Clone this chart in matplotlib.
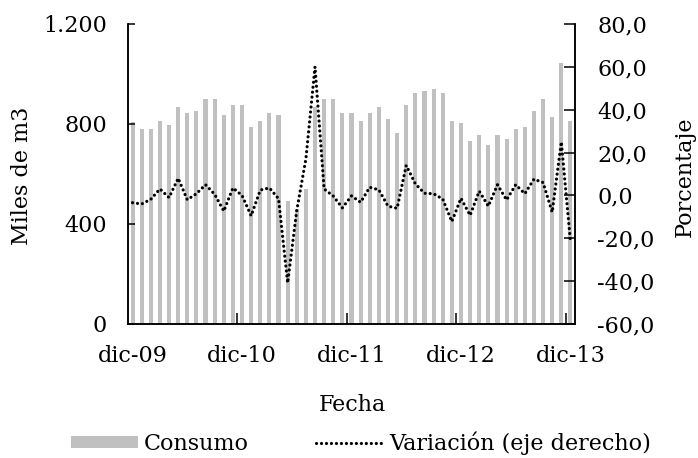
import numpy as np
import matplotlib
matplotlib.use("Agg")
import matplotlib.pyplot as plt
from matplotlib.ticker import FuncFormatter, FixedLocator

# datos mensuales dic-09 .. dic-13 (49 meses)
consumo = [809, 779, 779, 811, 795, 867, 843, 851, 899, 899, 835, 875,
           875, 787, 811, 843, 835, 493, 462, 541, 869, 899, 899, 845,
           845, 812, 845, 867, 819, 763, 875, 923, 931, 939, 923, 811,
           803, 731, 755, 715, 755, 739, 779, 787, 851, 899, 827, 1043,
           811]
variacion = [-3.4, -4.0, -1.8, 3.0, -1.0, 8.0, -2.0, 0.8, 5.0, 0.5, -7.3, 3.5,
             0.0, -9.5, 2.5, 3.5, -1.5, -40.8, -7.0, 17.0, 60.0, 3.0, -0.3, -5.8,
             -0.2, -3.2, 3.8, 2.6, -5.0, -6.0, 14.0, 5.4, 1.0, 0.8, -1.7, -12.2,
             -1.3, -9.3, 2.0, -5.0, 5.0, -2.1, 5.0, 0.8, 7.6, 6.0, -7.8, 25.0,
             -21.5]
etiquetas = ['dic-09', 'dic-10', 'dic-11', 'dic-12', 'dic-13']

plt.rcParams['font.family'] = 'DejaVu Serif'
plt.rcParams['font.size'] = 16

fig = plt.figure(figsize=(6.98, 4.58), dpi=100)
ax = fig.add_axes([128/698, 1 - 324/458, 447/698, 300/458])
ax2 = ax.twinx()

x = np.arange(len(consumo))
ax.bar(x, consumo, width=0.45, color='#C0C0C0', label='Consumo')
ax2.plot(x, variacion, color='black', linewidth=2.3,
         linestyle=(0, (0.01, 1.55)), dash_capstyle='round',
         label='Variación (eje derecho)')

ax.set_xlim(-0.5, len(consumo) - 0.5)
ax.set_ylim(0, 1200)
ax.set_yticks([0, 400, 800, 1200])
ax.yaxis.set_major_formatter(FuncFormatter(lambda v, p: f"{int(v):,}".replace(',', '.')))
ax2.set_ylim(-60, 80)
ax2.set_yticks(np.arange(-60, 81, 20))
ax2.yaxis.set_major_formatter(FuncFormatter(lambda v, p: f"{v:.1f}".replace('.', ',')))

ax.set_xticks(range(0, len(consumo), 12))
ax.set_xticklabels(etiquetas)
ax.xaxis.set_minor_locator(FixedLocator([11.5, 23.5, 35.5, 47.5]))
ax.tick_params(axis='x', which='major', length=0, pad=15)
ax.tick_params(axis='x', which='minor', direction='in', length=8, width=1.1)
ax.tick_params(axis='y', direction='in', length=5, width=1.1, pad=15)
ax2.tick_params(axis='y', direction='in', length=8, width=1.1, pad=16)

for a in (ax, ax2):
    a.spines['top'].set_visible(False)
    for s in ('left', 'right', 'bottom'):
        a.spines[s].set_linewidth(1.1)

fig.text(22/698, 1 - 176/458, 'Miles de m3', rotation=90, ha='center', va='center')
fig.text(685/698, 1 - 177/458, 'Porcentaje', rotation=90, ha='center', va='center')
fig.text(352/698, 1 - 405/458, 'Fecha', ha='center', va='center')

h1, l1 = ax.get_legend_handles_labels()
h2, l2 = ax2.get_legend_handles_labels()
fig.legend(h1 + h2, l1 + l2, loc='center', bbox_to_anchor=(361/698, 1 - 443/458),
           ncol=2, frameon=False, handlelength=3.0, handleheight=0.45,
           handletextpad=0.3, columnspacing=3.0, borderpad=0)

fig.savefig('out.png', dpi=100)
